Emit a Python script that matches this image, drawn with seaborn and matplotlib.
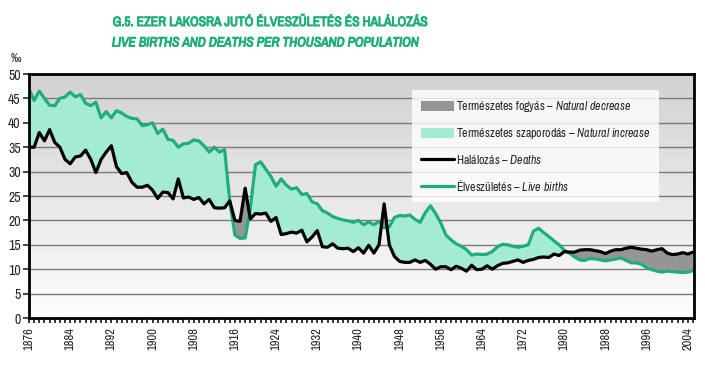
import numpy as np
import pandas as pd
import seaborn as sns
import matplotlib.pyplot as plt
import matplotlib.patheffects as pe
from matplotlib.colors import LinearSegmentedColormap
from matplotlib.patches import Patch
from matplotlib.lines import Line2D

# Data
years = list(range(1876, 2006))

births = [
    46.9, 44.6, 46.5, 45.0, 43.6, 43.5, 45.0, 45.3, 46.3, 45.3,
    45.8, 44.0, 43.5, 44.2, 41.0, 42.3, 41.0, 42.5, 42.0, 41.3,
    40.9, 40.8, 39.4, 39.6, 40.0, 37.8, 38.7, 36.6, 36.4, 35.0,
    35.7, 35.8, 36.5, 36.3, 35.3, 34.0, 35.0, 34.0, 34.5, 24.0,
    17.0, 16.3, 16.4, 22.5, 31.4, 32.0, 30.5, 29.0, 27.0, 28.5,
    27.2, 26.4, 26.7, 25.3, 25.5, 23.8, 23.4, 22.0, 21.5, 20.8,
    20.4, 20.1, 19.9, 19.6, 20.0, 19.1, 19.7, 19.1, 19.8, 18.5,
    18.7, 20.6, 21.0, 20.9, 21.1, 20.2, 19.6, 21.6, 23.0, 21.4,
    19.5, 17.0, 16.0, 15.2, 14.7, 14.0, 12.9, 13.1, 13.0, 13.1,
    13.6, 14.6, 15.1, 15.0, 14.7, 14.5, 14.7, 15.0, 17.8, 18.4,
    17.5, 16.7, 15.8, 15.0, 13.9, 13.3, 12.5, 11.9, 11.8, 12.2,
    12.1, 11.9, 11.7, 11.9, 12.1, 12.3, 11.8, 11.3, 11.3, 11.0,
    10.3, 9.9, 9.6, 9.4, 9.6, 9.5, 9.4, 9.3, 9.4, 9.7,
]

deaths = [
    35.0, 35.0, 38.0, 36.3, 38.6, 36.0, 35.0, 32.5, 31.6, 33.0,
    33.2, 34.4, 32.5, 29.8, 32.5, 34.0, 35.3, 31.0, 29.6, 29.8,
    27.8, 26.8, 26.8, 27.2, 26.2, 24.5, 25.8, 25.7, 24.4, 28.5,
    24.6, 24.8, 24.3, 24.7, 23.4, 24.3, 22.6, 22.5, 22.6, 24.0,
    20.0, 19.8, 26.6, 20.3, 21.4, 21.3, 21.5, 19.8, 20.6, 17.1,
    17.3, 17.6, 17.4, 18.0, 15.6, 16.6, 17.9, 14.6, 14.5, 15.2,
    14.3, 14.2, 14.3, 13.6, 14.4, 13.3, 14.9, 13.3, 15.0, 23.4,
    15.0, 12.6, 11.6, 11.4, 11.4, 11.9, 11.4, 11.8, 11.0, 10.0,
    10.5, 10.5, 9.9, 10.6, 10.2, 9.6, 10.8, 9.9, 10.0, 10.7,
    10.0, 10.7, 11.2, 11.3, 11.6, 11.9, 11.4, 11.8, 12.0, 12.4,
    12.5, 12.4, 13.1, 12.8, 13.6, 13.5, 13.5, 13.9, 14.0, 14.0,
    13.8, 13.6, 13.2, 13.7, 14.0, 14.0, 14.3, 14.5, 14.3, 14.1,
    14.0, 13.7, 14.0, 14.2, 13.3, 13.0, 13.1, 13.4, 13.1, 13.5,
]

tick_years = list(range(1876, 2006, 8))

legend_labels = [
    "Természetes fogyás – $\\mathit{Natural\\ decrease}$",
    "Természetes szaporodás – $\\mathit{Natural\\ increase}$",
    "Halálozás – $\\mathit{Deaths}$",
    "Élveszületés – $\\mathit{Live\\ births}$",
]

df = pd.DataFrame({"year": years, "births": births, "deaths": deaths})

sns.set_style("white")
plt.rcParams["font.family"] = ["Archivo Narrow", "DejaVu Sans"]
plt.rcParams["mathtext.fontset"] = "custom"
plt.rcParams["mathtext.rm"] = "Archivo Narrow"
plt.rcParams["mathtext.it"] = "Archivo Narrow:italic"

GREEN = "#1fae7a"
LIGHT_GREEN = "#a3ecd2"
GRAY = "#959595"

fig = plt.figure(figsize=(7.05, 3.67), dpi=100)
ax = fig.add_axes([29 / 705, 1 - 318 / 367, 665 / 705, 244 / 367])

##########################################
# Background gradient + grid
##########################################
grad = np.linspace(0, 1, 256).reshape(-1, 1)
ax.imshow(
    grad,
    extent=[1876, 2005.2, 0, 50],
    aspect="auto",
    cmap=LinearSegmentedColormap.from_list("bg", ["#fdfdfd", "#d2d2d2"]),
    origin="lower",
    zorder=0,
)

for v in range(5, 50, 5):
    ax.axhline(v, color="#7a7a7a", linewidth=1, zorder=1)

##########################################
# Fills and lines
##########################################
b = df["births"].values
d = df["deaths"].values

ax.fill_between(
    df["year"], d, b,
    where=b >= d, interpolate=True,
    color=LIGHT_GREEN, linewidth=0, zorder=2
)
ax.fill_between(
    df["year"], d, b,
    where=b < d, interpolate=True,
    color=GRAY, linewidth=0, zorder=2
)

sns.lineplot(
    data=df, x="year", y="births",
    color=GREEN, linewidth=2.3, ax=ax, zorder=3
)
sns.lineplot(
    data=df, x="year", y="deaths",
    color="black", linewidth=2.3, ax=ax, zorder=4
)

##########################################
# Axes
##########################################
ax.set_xlim(1876, 2005.2)
ax.set_ylim(0, 50)
ax.set_xlabel("")
ax.set_ylabel("")

ax.set_xticks(tick_years)
ax.set_xticklabels([str(t) for t in tick_years], rotation=90, fontsize=9)
ax.set_xticks(years, minor=True)
ax.set_yticks(range(0, 51, 5))
ax.tick_params(axis="y", labelsize=10, length=4, width=1.2, direction="out", pad=2)
ax.tick_params(axis="x", which="both", length=3.5, width=1.3, direction="out", pad=3)
ax.tick_params(axis="both", left=True, bottom=True)
ax.tick_params(axis="x", which="minor", bottom=True)

for s in ax.spines.values():
    s.set_color("black")
    s.set_linewidth(2)
    s.set_visible(True)
    s.set_zorder(6)

##########################################
# Legend
##########################################
handles = [
    Patch(facecolor=GRAY, edgecolor="none"),
    Patch(facecolor=LIGHT_GREEN, edgecolor="none"),
    Line2D([0], [0], color="black", linewidth=2.3),
    Line2D([0], [0], color=GREEN, linewidth=2.3),
]
leg = ax.legend(
    handles, legend_labels,
    loc="upper left", bbox_to_anchor=(0.576, 0.934),
    fontsize=8.6, frameon=True, fancybox=False,
    handlelength=2.8, handleheight=0.9, handletextpad=0.1,
    labelspacing=1.0, borderpad=0.75, borderaxespad=0,
)
leg.get_frame().set_facecolor("white")
leg.get_frame().set_alpha(0.8)
leg.get_frame().set_edgecolor("none")
leg.set_zorder(5)

##########################################
# Titles
##########################################
bold = [pe.withStroke(linewidth=0.7, foreground=GREEN)]
fig.text(0.383, 0.94, "G.5. EZER LAKOSRA JUTÓ ÉLVESZÜLETÉS ÉS HALÁLOZÁS",
         ha="center", va="center", fontsize=9.7, color=GREEN, path_effects=bold)
fig.text(0.377, 0.883, "LIVE BIRTHS AND DEATHS PER THOUSAND POPULATION",
         ha="center", va="center", fontsize=9.7,
         fontstyle="italic", color=GREEN, path_effects=bold)
fig.text(16 / 705, 1 - 58 / 367, "‰", ha="center", va="center", fontsize=9)

fig.savefig("out.png", dpi=100)
